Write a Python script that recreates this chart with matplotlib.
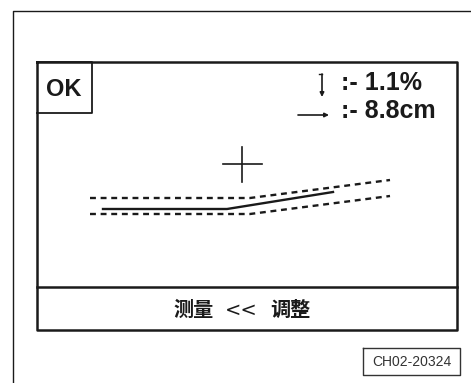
import matplotlib
matplotlib.use("Agg")
import matplotlib.pyplot as plt

# ---- content (pixel coordinates of the diagram) ----
status_label = "OK"
slope_label = ":- 1.1%"
offset_label = ":- 8.8cm"
footer_parts = ["测量", "<<", "调整"]
figure_code = "CH02-20324"

upper_dash_x = [90, 250, 390]
upper_dash_y = [198, 198, 180]
lower_dash_x = [90, 250, 390]
lower_dash_y = [214, 214, 196]
solid_x = [103, 227, 333]
solid_y = [209, 209, 192]
cross_center = (242, 164)

W, H = 471, 383
fig = plt.figure(figsize=(W / 100, H / 100), dpi=100)
ax = fig.add_axes([0, 0, 1, 1])
ax.set_xlim(0, W)
ax.set_ylim(H, 0)
ax.axis("off")

dark = "#1a1a1a"
# outer frame (top and left edges visible)
ax.plot([13, 13, W + 5], [H + 5, 11, 11], color=dark, lw=1.0)
# inner screen box
ax.plot([37, 457, 457, 37, 37], [62, 62, 330, 330, 62], color=dark, lw=1.8)
ax.plot([37, 457], [287, 287], color=dark, lw=1.8)
# OK box
ax.plot([37, 92, 92, 37], [62, 62, 113, 113], color=dark, lw=1.3)
ax.text(64, 90, status_label, ha="center", va="center", fontsize=17,
        fontweight="bold", family="Liberation Sans", color=dark)

# indicator texts
ax.text(341, 83, slope_label, ha="left", va="center", fontsize=18,
        fontweight="bold", family="Liberation Sans", color=dark)
ax.text(341, 111, offset_label, ha="left", va="center", fontsize=18,
        fontweight="bold", family="Liberation Sans", color=dark)
# vertical arrow
ax.plot([319, 322], [74, 74], color=dark, lw=1.0)
ax.annotate("", xy=(322, 97), xytext=(322, 74),
            arrowprops=dict(arrowstyle="-|>", color=dark, lw=1.2,
                            mutation_scale=6, shrinkA=0, shrinkB=0))
# horizontal arrow
ax.annotate("", xy=(329, 115), xytext=(298, 115),
            arrowprops=dict(arrowstyle="-|>", color=dark, lw=1.2,
                            mutation_scale=6, shrinkA=0, shrinkB=0))

# cross
cx, cy = cross_center
ax.plot([cx - 19, cx + 20], [cy, cy], color=dark, lw=1.2)
ax.plot([cx, cx], [cy - 17, cy + 18], color=dark, lw=1.2)

# lines
ax.plot(upper_dash_x, upper_dash_y, color=dark, lw=1.7, dashes=(2.5, 2))
ax.plot(lower_dash_x, lower_dash_y, color=dark, lw=1.7, dashes=(2.5, 2))
ax.plot(solid_x, solid_y, color=dark, lw=1.7)

# footer
cjk = ["Noto Sans CJK SC", "DejaVu Sans"]
ax.text(194, 309, footer_parts[0], ha="center", va="center", fontsize=14.5,
        fontweight="bold", family=cjk, color=dark)
ax.text(241, 310, footer_parts[1], ha="center", va="center", fontsize=14,
        family="DejaVu Sans", color=dark)
ax.text(290, 309, footer_parts[2], ha="center", va="center", fontsize=14.5,
        fontweight="bold", family=cjk, color=dark)

# figure code box
ax.plot([363, 460, 460, 363, 363], [348, 348, 375, 375, 348], color="#333333", lw=1.0)
ax.text(411.5, 361.5, figure_code, ha="center", va="center", fontsize=10,
        family="Liberation Sans", color="#333333")

fig.savefig("out.png", dpi=100)
